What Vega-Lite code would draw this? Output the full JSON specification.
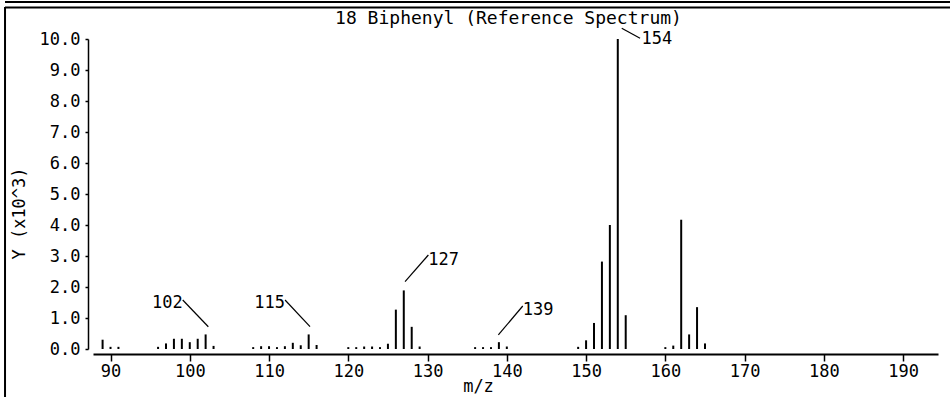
{
  "$schema": "https://vega.github.io/schema/vega-lite/v6.json",
  "width": 845,
  "height": 310,
  "autosize": "none",
  "padding": {"left": 93, "top": 39, "right": 12, "bottom": 48},
  "background": "white",
  "title": {
    "text": "18 Biphenyl (Reference Spectrum)",
    "font": "DejaVu Sans Mono",
    "fontSize": 18,
    "fontWeight": "normal",
    "color": "black",
    "anchor": "middle",
    "frame": "group",
    "dx": -7,
    "offset": -27
  },
  "datasets": {
    "peaks": [
      {"mz": 89, "intensity": 300},
      {"mz": 90, "intensity": 70},
      {"mz": 91, "intensity": 70},
      {"mz": 96, "intensity": 70},
      {"mz": 97, "intensity": 180},
      {"mz": 98, "intensity": 330},
      {"mz": 99, "intensity": 330},
      {"mz": 100, "intensity": 220},
      {"mz": 101, "intensity": 330},
      {"mz": 102, "intensity": 470},
      {"mz": 103, "intensity": 100},
      {"mz": 108, "intensity": 60},
      {"mz": 109, "intensity": 90},
      {"mz": 110, "intensity": 90},
      {"mz": 111, "intensity": 60},
      {"mz": 112, "intensity": 90},
      {"mz": 113, "intensity": 200},
      {"mz": 114, "intensity": 120},
      {"mz": 115, "intensity": 470},
      {"mz": 116, "intensity": 130},
      {"mz": 120, "intensity": 60},
      {"mz": 121, "intensity": 60},
      {"mz": 122, "intensity": 80},
      {"mz": 123, "intensity": 80},
      {"mz": 124, "intensity": 60},
      {"mz": 125, "intensity": 170},
      {"mz": 126, "intensity": 1270},
      {"mz": 127, "intensity": 1890},
      {"mz": 128, "intensity": 715},
      {"mz": 129, "intensity": 80},
      {"mz": 136, "intensity": 60},
      {"mz": 137, "intensity": 60},
      {"mz": 138, "intensity": 60},
      {"mz": 139, "intensity": 220},
      {"mz": 140, "intensity": 80},
      {"mz": 149, "intensity": 70},
      {"mz": 150, "intensity": 280},
      {"mz": 151, "intensity": 840},
      {"mz": 152, "intensity": 2820},
      {"mz": 153, "intensity": 4000},
      {"mz": 154, "intensity": 10000},
      {"mz": 155, "intensity": 1090},
      {"mz": 160, "intensity": 60},
      {"mz": 161, "intensity": 110},
      {"mz": 162, "intensity": 4170},
      {"mz": 163, "intensity": 470},
      {"mz": 164, "intensity": 1350},
      {"mz": 165, "intensity": 180}
    ],
    "labels": [
      {"label": "102", "tx": 99.1, "ty": 1468, "side": "left", "x1": 99.11, "y1": 1581, "x2": 102.34, "y2": 719},
      {"label": "115", "tx": 112.0, "ty": 1468, "side": "left", "x1": 112.02, "y1": 1581, "x2": 115.17, "y2": 719},
      {"label": "127", "tx": 130.1, "ty": 2887, "side": "right", "x1": 127.16, "y1": 2171, "x2": 130.1, "y2": 3032},
      {"label": "139", "tx": 142.0, "ty": 1242, "side": "right", "x1": 138.93, "y1": 452, "x2": 142.01, "y2": 1387},
      {"label": "154", "tx": 157.0, "ty": 10016, "side": "right", "x1": 154.5, "y1": 10345, "x2": 156.81, "y2": 10023}
    ]
  },
  "layer": [
    {
      "data": {"name": "peaks"},
      "mark": {"type": "rule", "strokeWidth": 2, "color": "black"},
      "encoding": {
        "x": {
          "field": "mz",
          "type": "quantitative",
          "scale": {"domain": [87.79, 194.4], "nice": false, "zero": false},
          "axis": {
            "values": [90, 100, 110, 120, 130, 140, 150, 160, 170, 180, 190],
            "tickCount": 11,
            "offset": 5,
            "grid": false,
            "domainColor": "black",
            "domainWidth": 2,
            "tickColor": "black",
            "tickSize": 7,
            "tickWidth": 1.5,
            "labelFont": "DejaVu Sans Mono",
            "labelFontSize": 17,
            "labelColor": "black",
            "labelPadding": 2,
            "labelOverlap": false,
            "title": "m/z",
            "titleFont": "DejaVu Sans Mono",
            "titleFontSize": 17,
            "titleFontWeight": "normal",
            "titleColor": "black",
            "titleX": 385,
            "titleY": 41,
            "titleBaseline": "bottom"
          }
        },
        "y": {
          "field": "intensity",
          "type": "quantitative",
          "scale": {"domain": [0, 10000], "nice": false},
          "axis": {
            "values": [0, 1000, 2000, 3000, 4000, 5000, 6000, 7000, 8000, 9000, 10000],
            "tickCount": 11,
            "labelExpr": "format(datum.value/1000, '.1f')",
            "offset": 5,
            "grid": false,
            "domainColor": "black",
            "domainWidth": 1.5,
            "tickColor": "black",
            "tickSize": 3,
            "tickWidth": 1.5,
            "labelFont": "DejaVu Sans Mono",
            "labelFontSize": 17,
            "labelColor": "black",
            "labelPadding": 5,
            "labelOverlap": false,
            "title": "Y (x10^3)",
            "titleFont": "DejaVu Sans Mono",
            "titleFontSize": 17,
            "titleFontWeight": "normal",
            "titleColor": "black",
            "titleAngle": -90,
            "titleX": -69,
            "titleY": 174,
            "titleAlign": "center",
            "titleBaseline": "middle"
          }
        },
        "y2": {"datum": 0}
      }
    },
    {
      "data": {"name": "labels"},
      "mark": {"type": "rule", "strokeWidth": 1.2, "color": "black", "clip": false},
      "encoding": {
        "x": {"field": "x1", "type": "quantitative"},
        "y": {"field": "y1", "type": "quantitative"},
        "x2": {"field": "x2"},
        "y2": {"field": "y2"}
      }
    },
    {
      "data": {"name": "labels"},
      "transform": [{"filter": "datum.side == 'left'"}],
      "mark": {"type": "text", "align": "right", "baseline": "middle", "font": "DejaVu Sans Mono", "fontSize": 17, "color": "black", "clip": false},
      "encoding": {
        "x": {"field": "tx", "type": "quantitative"},
        "y": {"field": "ty", "type": "quantitative"},
        "text": {"field": "label"}
      }
    },
    {
      "data": {"name": "labels"},
      "transform": [{"filter": "datum.side == 'right'"}],
      "mark": {"type": "text", "align": "left", "baseline": "middle", "font": "DejaVu Sans Mono", "fontSize": 17, "color": "black", "clip": false},
      "encoding": {
        "x": {"field": "tx", "type": "quantitative"},
        "y": {"field": "ty", "type": "quantitative"},
        "text": {"field": "label"}
      }
    },
    {
      "data": {"values": [{}]},
      "mark": {"type": "rule", "strokeWidth": 2, "color": "black", "clip": false},
      "encoding": {
        "x": {"datum": 76.69},
        "y": {"datum": 11032},
        "y2": {"datum": -1600}
      }
    },
    {
      "data": {"values": [{}]},
      "mark": {"type": "rule", "strokeWidth": 2, "color": "black", "clip": false},
      "encoding": {
        "x": {"datum": 76.69},
        "x2": {"datum": 196.0},
        "y": {"datum": 11016}
      }
    },
    {
      "data": {"values": [{}]},
      "mark": {"type": "rule", "strokeWidth": 2, "color": "black", "clip": false},
      "encoding": {
        "x": {"datum": 76.69},
        "x2": {"datum": 196.0},
        "y": {"datum": 11194}
      }
    }
  ],
  "config": {
    "view": {"stroke": null},
    "axis": {"labelFont": "DejaVu Sans Mono"}
  }
}
